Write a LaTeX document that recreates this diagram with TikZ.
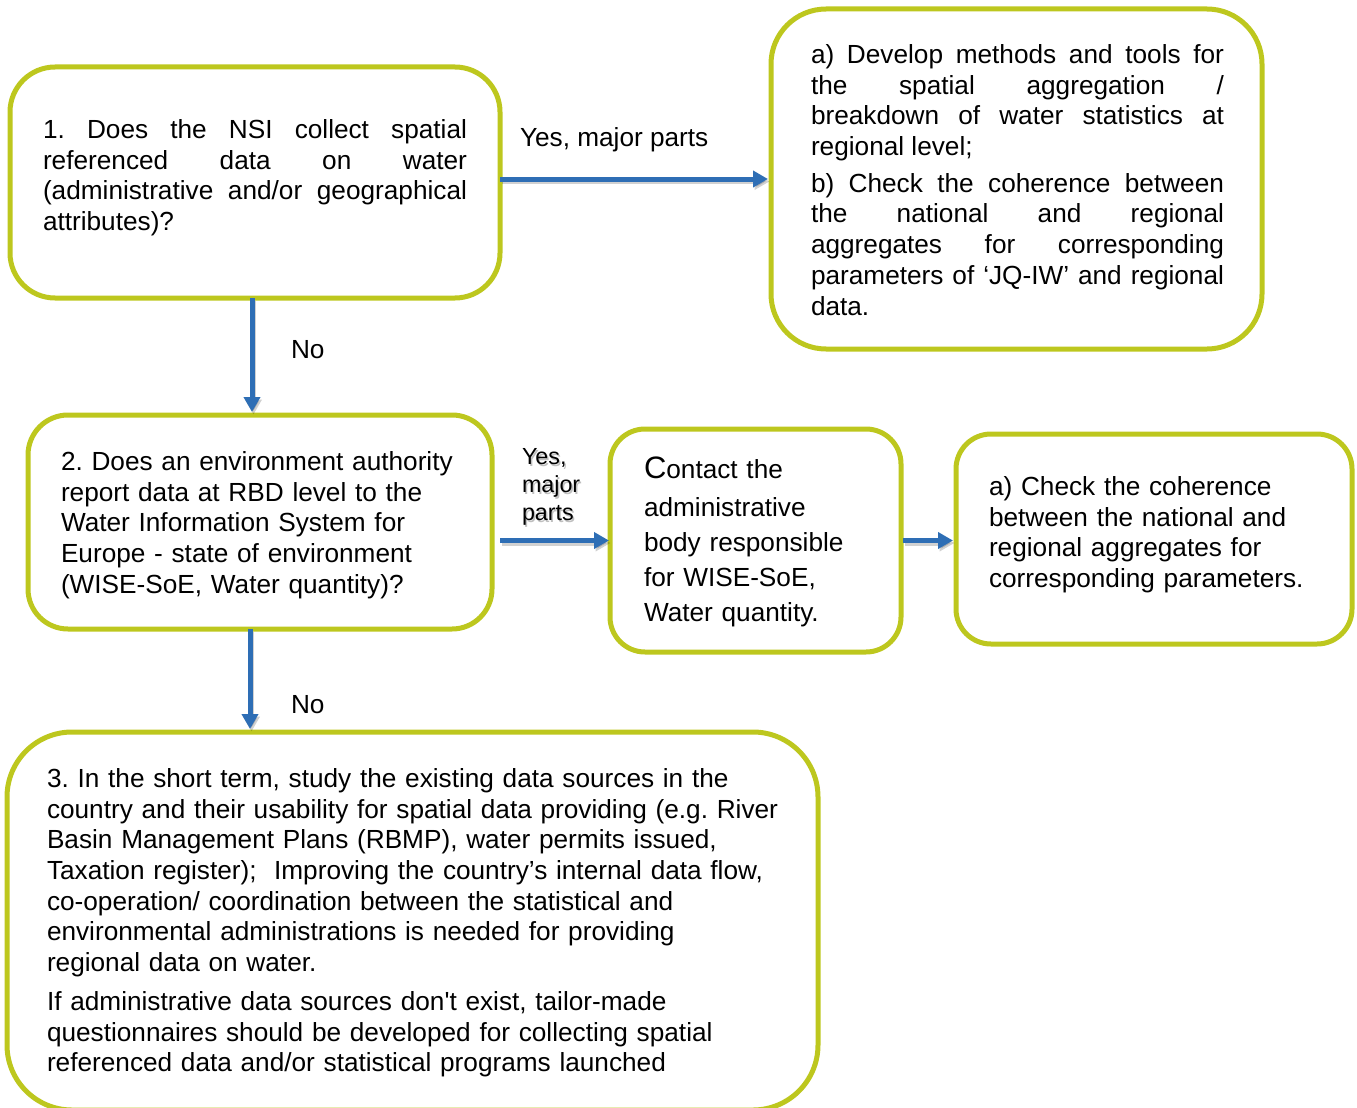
\documentclass[tikz,border=0pt]{standalone}
\usepackage{fontspec}
\setmainfont{Liberation Sans}
\usetikzlibrary{arrows.meta,calc}
\definecolor{boxgreen}{RGB}{189,199,30}
\definecolor{arrowblue}{RGB}{46,110,181}

% one connector: a faint drop shadow, then the blue arrow itself
\newcommand\linkarrow[2]{%
  \draw[flowshadow] #1 -- #2;
  \draw[flow] #1 -- #2;}

\begin{document}
\frenchspacing
\begin{tikzpicture}[x=1pt,y=-1pt,
  box/.style={draw=boxgreen, line width=5pt, fill=white, inner sep=0pt,
    outer sep=0pt, anchor=north west},
  txt/.style={anchor=north west, inner sep=0pt, outer sep=0pt,
    font=\fontsize{26.2}{30.7}\selectfont, text=black},
  lbl/.style={anchor=base west, inner sep=0pt, outer sep=0pt,
    font=\fontsize{26.2}{30.7}\selectfont, text=black},
  flow/.style={draw=arrowblue, line width=5pt,
    -{Triangle[length=15pt,width=16pt]}, shorten >=3pt},
  flowshadow/.style={draw=black, opacity=0.18, line width=5pt,
    -{Triangle[length=15pt,width=16pt]}, shorten >=3pt,
    transform canvas={shift={(1.5pt,-2.5pt)}}},
]
\useasboundingbox (0,0) rectangle (1357,1108);

% ---------- boxes ----------
\node[box, rounded corners=45pt, minimum width=490pt, minimum height=231pt]
  (b1) at (10,67) {};
\node[box, rounded corners=55pt, minimum width=491pt, minimum height=340pt]
  (bA) at (771,9) {};
\node[box, rounded corners=40pt, minimum width=464pt, minimum height=214pt]
  (b2) at (28,415) {};
\node[box, rounded corners=35pt, minimum width=291pt, minimum height=223pt]
  (bC) at (610,429) {};
\node[box, rounded corners=35pt, minimum width=396pt, minimum height=210pt]
  (bD) at (956,434) {};
\node[box, rounded corners=65pt, minimum width=811pt, minimum height=378pt]
  (b3) at (7,732) {};

% ---------- box texts ----------
\node[txt, text width=424pt, align=justify] (t1) at (43,117)
  {\strut 1. Does the NSI collect spatial\linebreak
   referenced data on water\linebreak
   (administrative and/or geographical\linebreak
   attributes)?};

\node[txt, text width=413pt, align=justify] (tA) at (811,42)
  {\strut a) Develop methods and tools for\linebreak
   the spatial aggregation /\linebreak
   breakdown of water statistics at\linebreak
   regional level;\par\vspace{6pt}
   \strut b) Check the coherence between\linebreak
   the national and regional\linebreak
   aggregates for corresponding\linebreak
   parameters of ‘JQ-IW’ and regional\linebreak
   data.};

\node[txt, text width=420pt, align=left] (t2) at (61,449)
  {\strut 2. Does an environment authority\\
   report data at RBD level to the\\
   Water Information System for\\
   Europe - state of environment\\
   (WISE-SoE, Water quantity)?};

\node[txt, text width=250pt, align=left, font=\fontsize{26.2}{35}\selectfont]
  (tC) at (644,453.8)
  {\strut{\fontsize{31}{35}\selectfont C}ontact the\\[3.5pt]
   administrative\\
   body responsible\\
   for WISE-SoE,\\
   Water quantity.};

\node[txt, text width=350pt, align=left] (tD) at (989,474)
  {\strut a) Check the coherence\\
   between the national and\\
   regional aggregates for\\
   corresponding parameters.};

\node[txt, text width=780pt, align=left] (t3) at (47,766)
  {\strut 3. In the short term, study the existing data sources in the\\
   country and their usability for spatial data providing (e.g. River\\
   Basin Management Plans (RBMP), water permits issued,\\
   Taxation register);\ \ Improving the country’s internal data flow,\\
   co-operation/ coordination between the statistical and\\
   environmental administrations is needed for providing\\
   regional data on water.\\[8pt]
   If administrative data sources don\textquotesingle t exist, tailor-made\\
   questionnaires should be developed for collecting spatial\\
   referenced data and/or statistical programs launched};

% ---------- connectors ----------
\linkarrow{(b1.east |- bA.west)}{(bA.west)}
\linkarrow{([xshift=-3pt]b1.south)}{([xshift=-3pt]b1.south |- b2.north)}
\linkarrow{([xshift=8pt]b2.east |- bC.west)}{([xshift=2pt]bC.west)}
\linkarrow{([xshift=2pt]bC.east)}{(bC.east -| bD.west)}
\linkarrow{([xshift=-10pt]b2.south)}{([xshift=-10pt]b2.south |- b3.north)}

% ---------- connector labels ----------
\node[lbl] (lyes1) at (520,146) {Yes, major parts};
\node[lbl] (lno1) at (291,358.5) {No};
\node[lbl] (lno2) at (291,713.5) {No};
\node[txt, text width=80pt, align=left, font=\fontsize{23.3}{27.8}\selectfont,
  text=black, opacity=0.25] (lyes2s) at (523.5,447)
  {\strut Yes,\\ major\\ parts};
\node[txt, text width=80pt, align=left, font=\fontsize{23.3}{27.8}\selectfont]
  (lyes2) at (522,445.5)
  {\strut Yes,\\ major\\ parts};
\end{tikzpicture}
\end{document}
